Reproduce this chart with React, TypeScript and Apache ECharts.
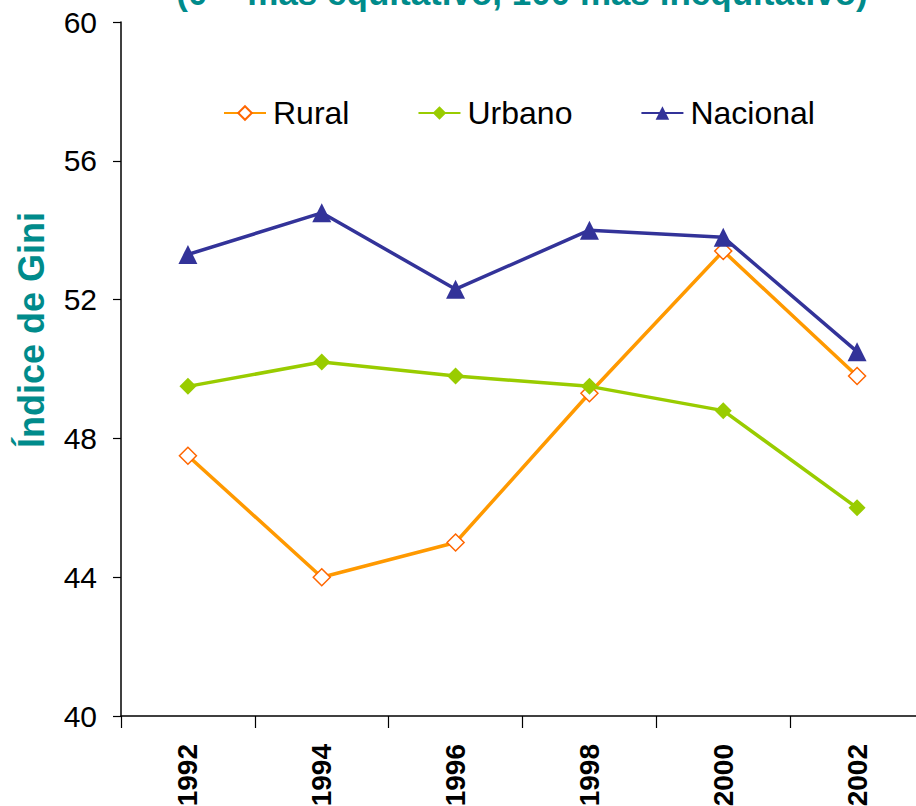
import React, { useEffect, useRef } from "react";
import * as echarts from "echarts";

const years = ["1992", "1994", "1996", "1998", "2000", "2002"];
const rural = [47.5, 44.0, 45.0, 49.3, 53.4, 49.8];
const urbano = [49.5, 50.2, 49.8, 49.5, 48.8, 46.0];
const nacional = [53.3, 54.5, 52.3, 54.0, 53.8, 50.5];
const yMin = 40;
const yMax = 60;
const yStep = 4;
const titleText = "(0 = más equitativo, 100 más inequitativo)";
const yAxisTitle = "Índice de Gini";

export default function App() {
  const ref = useRef<HTMLDivElement>(null);
  useEffect(() => {
    if (!ref.current) return;
    const chart = echarts.init(ref.current, null, { renderer: "svg" });
    const narrow = "'Liberation Sans Narrow', 'Arial Narrow', 'Liberation Sans', Arial, sans-serif";
    const sans = "'Liberation Sans', Arial, sans-serif";
    chart.setOption({
      animation: false,
      backgroundColor: "#ffffff",
      grid: { left: 121, top: 22, right: -8, bottom: 90, containLabel: false, outerBoundsMode: "none" },
      legend: {
        top: 92,
        left: 218,
        itemWidth: 42,
        itemHeight: 17,
        itemGap: 68,
        textStyle: { fontFamily: sans, fontSize: 32, color: "#000000", padding: [0, 0, 0, 2] },
        data: ["Rural", "Urbano", "Nacional"],
      },
      graphic: [
        {
          type: "text",
          x: 522,
          y: -8,
          style: {
            text: titleText,
            fontFamily: narrow,
            fontWeight: "bold",
            fontSize: 35,
            fill: "#008B8B",
            textAlign: "center",
            textVerticalAlign: "middle",
          },
        },
        {
          type: "text",
          x: 31,
          y: 330,
          rotation: Math.PI / 2,
          style: {
            text: yAxisTitle,
            fontFamily: narrow,
            fontWeight: "bold",
            fontSize: 36,
            fill: "#008B8B",
            textAlign: "center",
            textVerticalAlign: "middle",
          },
        },
      ],
      xAxis: {
        type: "category",
        data: years,
        boundaryGap: true,
        axisLine: { lineStyle: { color: "#000000", width: 1.5 } },
        axisTick: { show: true, length: 12, lineStyle: { color: "#000000", width: 1.2 } },
        axisLabel: {
          rotate: 90,
          margin: 28,
          fontFamily: narrow,
          fontWeight: "bold",
          fontSize: 28,
          color: "#000000",
        },
        splitLine: { show: false },
      },
      yAxis: {
        type: "value",
        min: yMin,
        max: yMax,
        interval: yStep,
        axisLine: { show: true, lineStyle: { color: "#000000", width: 1.5 } },
        axisTick: { show: true, length: 8, lineStyle: { color: "#000000", width: 1.2 } },
        axisLabel: {
          margin: 24,
          fontFamily: narrow,
          fontSize: 30,
          color: "#000000",
        },
        splitLine: { show: false },
      },
      series: [
        {
          name: "Rural",
          type: "line",
          data: rural,
          symbol: "diamond",
          symbolSize: 17,
          lineStyle: { color: "#FF9900", width: 3.5 },
          itemStyle: { color: "#FFFFFF", borderColor: "#FF6600", borderWidth: 1.5 },
        },
        {
          name: "Urbano",
          type: "line",
          data: urbano,
          symbol: "diamond",
          symbolSize: 17,
          lineStyle: { color: "#99CC00", width: 3.5 },
          itemStyle: { color: "#99CC00", borderWidth: 0 },
        },
        {
          name: "Nacional",
          type: "line",
          data: nacional,
          symbol: "triangle",
          symbolSize: 19,
          lineStyle: { color: "#333399", width: 3.5 },
          itemStyle: { color: "#333399", borderWidth: 0 },
        },
      ],
    });
    return () => chart.dispose();
  }, []);
  return (
    <div
      ref={ref}
      style={{ position: "fixed", left: 0, top: 0, width: 916, height: 806, background: "#fff" }}
    />
  );
}
